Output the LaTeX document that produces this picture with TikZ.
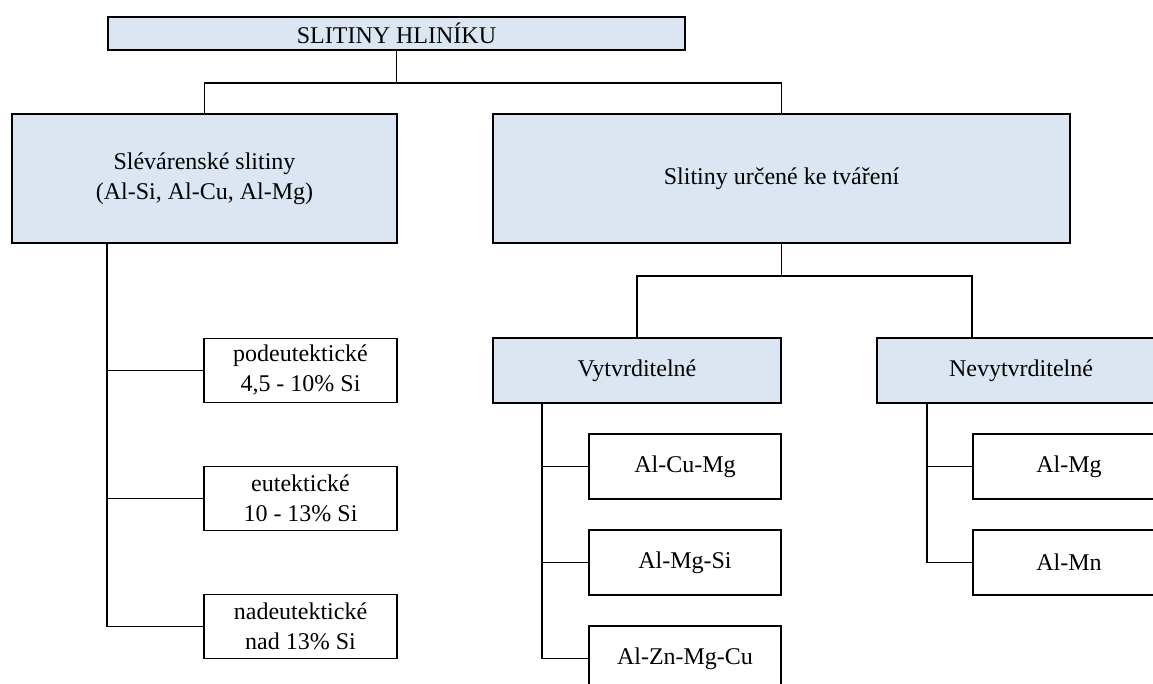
\documentclass[tikz,border=0pt]{standalone}
\usepackage{fontspec}
\setmainfont{Liberation Serif}
\usetikzlibrary{positioning}
\definecolor{hdrblue}{HTML}{DCE6F2}

\begin{document}
\begin{tikzpicture}[
    x=0.5pt, y=-0.5pt,
    on grid,
    every node/.style={font=\fontsize{12}{15}\selectfont, align=center, inner sep=0pt},
    box/.style={draw=black, line width=0.9pt, rectangle},
    hdr/.style={box, fill=hdrblue},
    leaf/.style={box, fill=white},
    link/.style={draw=black, line width=0.8pt}
]
   \clip (0,0) rectangle (1153,684);

   % Headers
   \node[hdr, minimum width=288.5pt, minimum height=16.5pt] (top) at (396.5,33.5) {SLITINY HLINÍKU};
   \node[hdr, minimum width=192.5pt, minimum height=64.5pt] (lbox) at (204.5,178.5) {Slévárenské slitiny\\(Al-Si, Al-Cu, Al-Mg)};
   \node[hdr, minimum width=288.5pt, minimum height=64.5pt] (rbox) at (781.5,178.5) {Slitiny určené ke tváření};
   \node[hdr, minimum width=144pt, minimum height=32.5pt] (vbox) at (637,370.5) {Vytvrditelné};
   \node[hdr, minimum width=144pt, minimum height=32.5pt] (nbox) at (1021,370.5) {Nevytvrditelné};

   % Casting alloys
   \node[leaf, minimum width=96.5pt, minimum height=32pt] (pod) at (300.5,370.5) {podeutektické\\4,5 - 10\% Si};
   \node[leaf, minimum width=96.5pt, minimum height=32pt] (eut) [below=64pt of pod] {eutektické\\10 - 13\% Si};
   \node[leaf, minimum width=96.5pt, minimum height=32pt] (nad) [below=64pt of eut] {nadeutektické\\nad 13\% Si};

   % Wrought alloys
   \node[leaf, minimum width=96pt, minimum height=32.5pt] (acm) at (685,466.5) {Al-Cu-Mg};
   \node[leaf, minimum width=96pt, minimum height=32.5pt] (ams) [below=48pt of acm] {Al-Mg-Si};
   \node[leaf, minimum width=96pt, minimum height=32.5pt] (azm) [below=48pt of ams] {Al-Zn-Mg-Cu};
   \node[leaf, minimum width=96pt, minimum height=32.5pt] (amg) at (1069,466.5) {Al-Mg};
   \node[leaf, minimum width=96pt, minimum height=32.5pt] (amn) [below=48pt of amg] {Al-Mn};

   % Connectors
   \path[link] (top.south) -- ++(0,32) coordinate (tbar);
   \path[link] (lbox.north) |- (tbar) -| (rbox.north);
   \path[link] (rbox.south) -- ++(0,32) coordinate (rbar);
   \path[link] (vbox.north) |- (rbar) -| ([xshift=48pt]nbox.north west);

   \coordinate (ltrunk) at ([xshift=48pt]lbox.south west);
   \path[link] (ltrunk) |- (nad.west);
   \foreach \n in {pod,eut}
      \path[link] (\n.west) -- (\n.west -| ltrunk);

   \coordinate (vtrunk) at ([xshift=25pt]vbox.south west);
   \path[link] (vtrunk) |- (azm.west);
   \foreach \n in {acm,ams}
      \path[link] (\n.west) -- (\n.west -| vtrunk);

   \coordinate (ntrunk) at ([xshift=25.5pt]nbox.south west);
   \path[link] (ntrunk) |- (amn.west);
   \path[link] (amg.west) -- (amg.west -| ntrunk);
\end{tikzpicture}
\end{document}
